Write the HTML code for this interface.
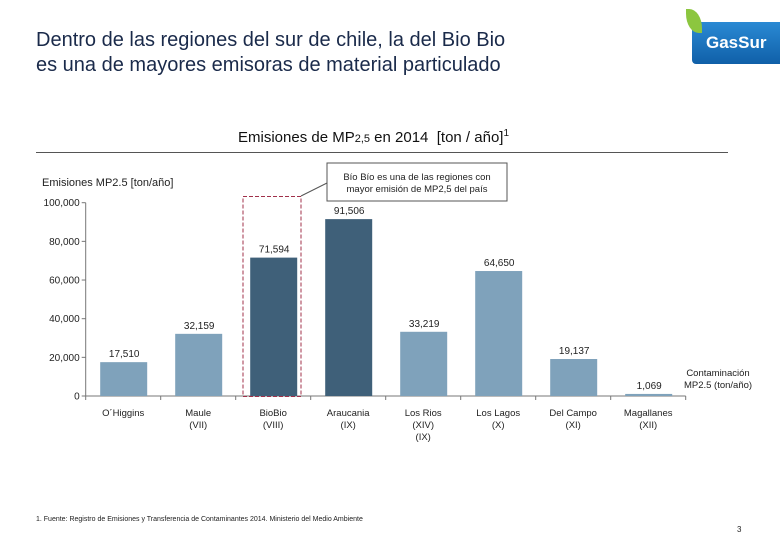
<!DOCTYPE html>
<html><head><meta charset="utf-8"><style>
body{margin:0;width:780px;height:540px;background:#fff;font-family:"Liberation Sans",sans-serif;overflow:hidden;position:relative}
.t{position:absolute;white-space:nowrap}
</style></head><body>
<div class="t" style="left:36px;top:28px;font-size:20px;line-height:25px;color:#1a2a4a">Dentro de las regiones del sur de chile, la del Bio Bio<br>es una de mayores emisoras de material particulado</div>
<div style="position:absolute;left:692px;top:22px;width:88px;height:42px;background:linear-gradient(#2a8ad4,#1060a8);border-radius:4px 0 0 4px"></div>
<div style="position:absolute;left:686px;top:9px;width:16px;height:24px;background:#8cc63f;border-radius:0 80% 0 80%"></div>
<div class="t" style="left:706px;top:33px;font-size:17px;font-weight:bold;color:#fff">GasSur</div>
<div class="t" style="left:238px;top:128px;font-size:15px;color:#111">Emisiones de MP<span style="font-size:11px">2,5</span> en 2014 &nbsp;[ton / año]<sup style="font-size:10px">1</sup></div>
<div style="position:absolute;left:36px;top:152px;width:692px;height:1px;background:#555"></div>
<div class="t" style="left:36px;top:516px;font-size:7px;color:#222">1. Fuente: Registro de Emisiones y Transferencia de Contaminantes 2014. Ministerio del Medio Ambiente</div>
<div class="t" style="left:737px;top:525px;font-size:8px;color:#222">3</div>
<svg id="chart" width="780" height="540" style="position:absolute;left:0;top:0" font-family="Liberation Sans, sans-serif"></svg>
<script>
const categories=["O´Higgins","Maule|(VII)","BioBio|(VIII)","Araucania|(IX)","Los Rios|(XIV)|(IX)","Los Lagos|(X)","Del Campo|(XI)","Magallanes|(XII)"];
const values=[17510,32159,71594,91506,33219,64650,19137,1069];
const valueLabels=["17,510","32,159","71,594","91,506","33,219","64,650","19,137","1,069"];
const highlight=[0,0,1,1,0,0,0,0];
const yTicks=[0,20000,40000,60000,80000,100000];
const yTickLabels=["0","20,000","40,000","60,000","80,000","100,000"];
const svg=document.getElementById('chart');const NS="http://www.w3.org/2000/svg";
const x0=85.7,slot=75,y0=396,yTop=202.7,ymax=100000;
const y=v=>y0-(v/ymax)*(y0-yTop);
function mk(t,a,txt){const e=document.createElementNS(NS,t);for(const k in a)e.setAttribute(k,a[k]);if(txt!==undefined)e.textContent=txt;svg.appendChild(e);return e;}
let e;
e=mk('line',{x1:x0,y1:y0,x2:x0,y2:yTop,stroke:'#777'});


e=mk('line',{x1:x0,y1:y0,x2:x0+slot*categories.length,y2:y0,stroke:'#777'});


yTicks.forEach((v,i)=>{
 mk('line',{x1:x0-4,x2:x0,y1:y(v),y2:y(v),stroke:'#777'});
 e=mk('text',{x:x0-6,y:y(v)+3.5,'font-size':10,'text-anchor':'end',fill:'#222'},yTickLabels[i]);
 
 
});
for(let i=0;i<=categories.length;i++)mk('line',{x1:x0+slot*i,x2:x0+slot*i,y1:y0,y2:y0+4,stroke:'#777'});
categories.forEach((c,i)=>{
 const cx=x0+slot*i+slot/2+1;
 e=mk('rect',{x:cx-24,y:y(values[i]),width:47,height:y0-y(values[i]),fill:highlight[i]?'#3f6079':'#7fa2bb'});
 
 
 e=mk('text',{x:cx,y:y(values[i])-5,'font-size':10,'text-anchor':'middle',fill:'#222'},valueLabels[i]);
 
 
 c.split('|').forEach((ln,j)=>{
  e=mk('text',{x:cx-1,y:416+12*j,'font-size':9.5,'text-anchor':'middle',fill:'#222'},ln);
  
  
 });
});
e=mk('text',{x:42,y:186,'font-size':11,fill:'#222'},'Emisiones MP2.5 [ton/año]');


e=mk('rect',{x:243,y:196.5,width:58,height:200,fill:'none',stroke:'#a0304a','stroke-dasharray':'4,2'});


mk('line',{x1:301,y1:196,x2:327,y2:183,stroke:'#555'});
e=mk('rect',{x:327,y:163,width:180,height:38,fill:'#fff',stroke:'#555'});


mk('text',{x:417,y:180,'font-size':9.5,'text-anchor':'middle',fill:'#222'},'Bío Bío es una de las regiones con');
mk('text',{x:417,y:192,'font-size':9.5,'text-anchor':'middle',fill:'#222'},'mayor emisión  de MP2,5 del país');
e=mk('text',{x:718,y:376,'font-size':9.5,'text-anchor':'middle',fill:'#222'},'Contaminación');


mk('text',{x:718,y:388,'font-size':9.5,'text-anchor':'middle',fill:'#222'},'MP2.5 (ton/año)');
</script>
</body></html>
